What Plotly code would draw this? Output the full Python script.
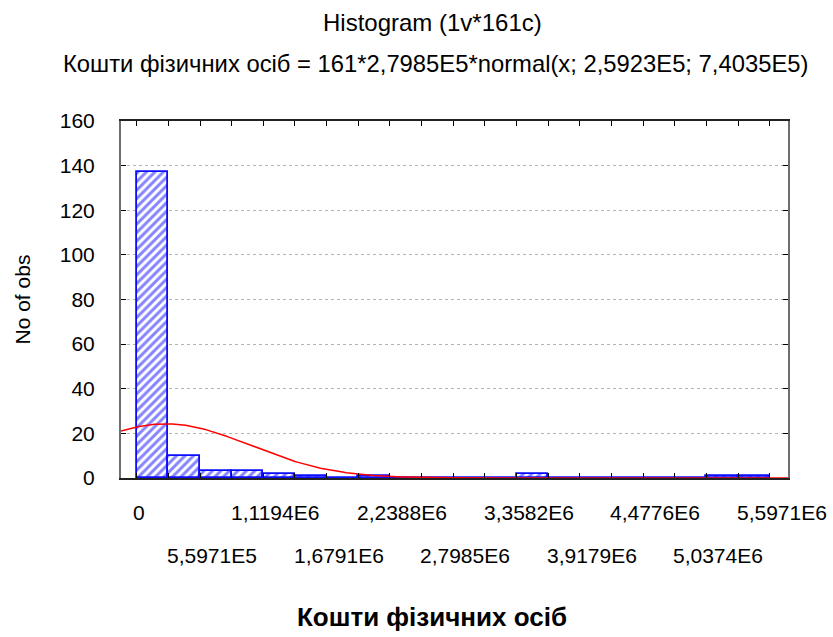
import numpy as np
import plotly.graph_objects as go

# ---- data ----
bin_width = 279855.0          # 5.5971E6 / 20
n_obs = 161
mean_val = 2.5923e5
sd_val = 7.4035e5
bin_index = list(range(20))
counts = [137, 10, 3, 3, 2, 1, 0, 1, 0, 0, 0, 0, 2, 0, 0, 0, 0, 0, 1, 1]
tick_labels_top = ["0", "1,1194E6", "2,2388E6", "3,3582E6", "4,4776E6", "5,5971E6"]
tick_pos_top = [0, 4, 8, 12, 16, 20]
tick_labels_bot = ["5,5971E5", "1,6791E6", "2,7985E6", "3,9179E6", "5,0374E6"]
tick_pos_bot = [2, 6, 10, 14, 18]

title_text = "Histogram (1v*161c)"
subtitle_text = "Кошти фізичних осіб = 161*2,7985E5*normal(x; 2,5923E5; 7,4035E5)"
x_title = "Кошти фізичних осіб"
y_title = "No of obs"

FONT = "Liberation Sans, Arial, sans-serif"

centers = [(i + 0.5) * bin_width for i in bin_index]
xmin, xmax = -0.4957 * bin_width, 20.575 * bin_width

fig = go.Figure()
fig.add_trace(go.Bar(
    x=centers, y=counts, width=bin_width,
    marker=dict(color="white",
                line=dict(color="#0c0cff", width=1.8),
                pattern=dict(shape="/", fgcolor="#0a0aff", bgcolor="white",
                             size=6, solidity=0.5)),
    showlegend=False, hoverinfo="skip"))

# fitted normal curve from the parameters stated in the chart
xs = np.linspace(xmin, xmax, 300)
ys = n_obs * bin_width * np.exp(-0.5 * ((xs - mean_val) / sd_val) ** 2) / (sd_val * np.sqrt(2 * np.pi))
fig.add_trace(go.Scatter(x=xs, y=ys, mode="lines",
                         line=dict(color="#ff0000", width=1.5),
                         showlegend=False, hoverinfo="skip"))

annotations = []
for lab, p in zip(tick_labels_top, tick_pos_top):
    annotations.append(dict(x=p * bin_width, y=0, xref="x", yref="paper",
                            xanchor="center", yanchor="middle",
                            text=lab, showarrow=False, yshift=-34,
                            xshift=2 if lab == "0" else 12,
                            font=dict(size=21, color="black", family=FONT)))
for lab, p in zip(tick_labels_bot, tick_pos_bot):
    annotations.append(dict(x=p * bin_width, y=0, xref="x", yref="paper",
                            xanchor="center", yanchor="middle",
                            text=lab, showarrow=False, yshift=-77, xshift=12,
                            font=dict(size=21, color="black", family=FONT)))
annotations += [
    dict(x=0.4663, y=1, xref="paper", yref="paper", yshift=99, showarrow=False,
         xanchor="center", yanchor="middle",
         text=title_text, font=dict(size=24, color="black", family=FONT)),
    dict(x=0.4708, y=1, xref="paper", yref="paper", yshift=58, showarrow=False,
         xanchor="center", yanchor="middle",
         text=subtitle_text, font=dict(size=23.8, color="black", family=FONT)),
    dict(x=0.4663, y=0, xref="paper", yref="paper", yshift=-139, showarrow=False,
         xanchor="center", yanchor="middle",
         text="<b>" + x_title + "</b>", font=dict(size=26, color="black", family=FONT)),
    dict(x=0, y=0.5, xref="paper", yref="paper", xshift=-99, showarrow=False,
         xanchor="center", yanchor="middle",
         text=y_title, textangle=-90, font=dict(size=21, color="black", family=FONT)),
]

fig.update_layout(
    width=833, height=637,
    margin=dict(l=121, r=45, t=121, b=159),
    paper_bgcolor="white", plot_bgcolor="white",
    bargap=0,
    annotations=annotations,
    xaxis=dict(range=[xmin, xmax], showgrid=False, zeroline=False,
               tick0=0, dtick=bin_width, ticks="inside", ticklen=5,
               tickcolor="black", showticklabels=False,
               showline=True, linecolor="#222222", linewidth=1.5, mirror="ticks"),
    yaxis=dict(range=[0, 160], dtick=20, showgrid=True, gridcolor="#b4b4b4",
               griddash="dot", gridwidth=1, zeroline=False,
               ticks="inside", ticklen=5, tickcolor="black",
               tickfont=dict(size=21, color="black", family=FONT),
               ticklabelstandoff=20,
               showline=True, linecolor="#6e6e6e", linewidth=2, mirror="ticks"),
)

fig.write_html("out.html")
